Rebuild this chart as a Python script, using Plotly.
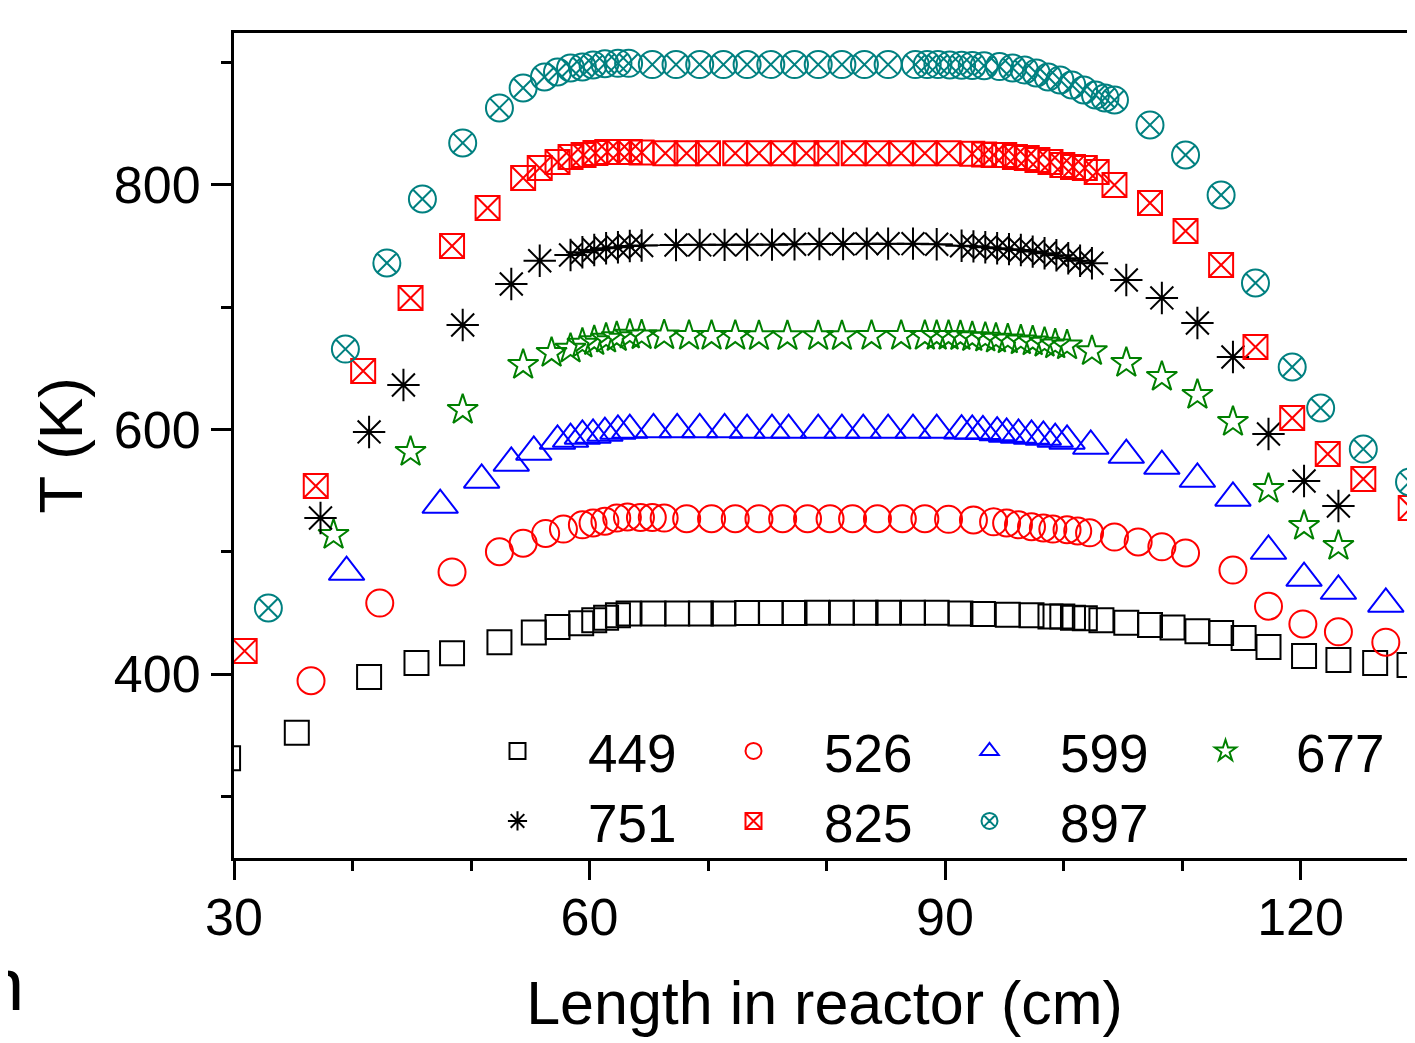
import plotly.graph_objects as go

# ---------------- data ----------------
labels = ["449", "526", "599", "677", "751", "825", "897"]
colors = ["#000000", "#FF0000", "#0000FF", "#008000", "#000000", "#FF0000", "#008080"]
symbols = ["square-open", "circle-open", "triangle-up-open", "star-open",
           "asterisk-open", "square-x-open", "circle-x-open"]
msizes = [24, 27, 31, 23, 27, 24, 27]
legend_rows = ["legend", "legend", "legend", "legend", "legend2", "legend2", "legend2"]

x449 = [29.5, 35.3, 41.4, 45.4, 48.4, 52.4, 55.3, 57.3, 59.3, 60.4, 61.4, 62.4, 63.3, 65.4, 67.4, 69.4,
        71.3, 73.3, 75.3, 77.3, 79.2, 81.3, 83.3, 85.2, 87.3, 89.3, 91.3, 93.2, 95.3, 97.3, 98.9, 99.9,
        100.8, 101.8, 103.2, 105.3, 107.3, 109.2, 111.3, 113.3, 115.2, 117.3, 120.3, 123.2, 126.3, 129.2]
y449 = [331, 352, 397.5, 409, 417, 426, 434, 438.5, 441.5, 444, 446, 448, 449.5, 449.5, 449.5, 449.5,
        449.5, 449.8, 449.8, 449.8, 450, 450, 450, 450, 450, 450, 449.5, 449, 448.5, 448, 447, 447,
        446, 445.5, 444, 442, 440, 438, 435, 433.5, 429.4, 422, 414.7, 411.5, 409, 407.4]

x526 = [36.5, 42.3, 48.4, 52.4, 54.4, 56.3, 57.8, 59.4, 60.3, 61.3, 62.3, 63.2, 64.3, 65.3, 66.3, 68.2,
        70.3, 72.3, 74.3, 76.3, 78.4, 80.3, 82.2, 84.3, 86.4, 88.3, 90.3, 92.4, 94.1, 95.2, 96.2, 97.3,
        98.3, 99.1, 100.3, 101.2, 102.2, 104.3, 106.3, 108.3, 110.3, 114.3, 117.3, 120.2, 123.2, 127.2]
y526 = [394.5, 458, 483.5, 500, 507, 515, 518.5, 522, 523.5, 525, 527.5, 528.5, 528, 528, 527.5, 527,
        527, 527, 527, 527, 527, 527, 527, 527, 527, 527, 526.5, 526, 524.5, 523.5, 522, 520.5,
        519.5, 518.5, 518, 517, 515.5, 512, 508, 504, 499, 485, 455.5, 441, 434.5, 426]

x599 = [39.5, 47.4, 50.9, 53.4, 55.3, 57.3, 58.4, 59.4, 60.3, 61.3, 62.4, 63.4, 65.4, 67.4, 69.3, 71.4,
        73.3, 75.4, 76.8, 79.3, 81.3, 83.1, 85.2, 87.3, 89.3, 91.4, 92.3, 93.2, 94.4, 95.2, 96.2, 97.3,
        98.3, 99.3, 100.3, 102.3, 105.3, 108.3, 111.3, 114.3, 117.3, 120.3, 123.2, 127.2]
y599 = [483.4, 538.2, 558.7, 572.6, 581.6, 590.6, 592.2, 594.7, 595.5, 597.1, 598.8, 599.5, 600, 600, 600, 600,
        599.5, 599.5, 599.5, 599.5, 599.5, 599.5, 599.5, 599.5, 599.5, 599, 598.8, 598.5, 597.5, 596.3, 595.5, 594.7,
        593.9, 592.2, 590.6, 586.5, 579.1, 570.1, 559.5, 544, 500.6, 478.5, 467.9, 457.3]

x677 = [38.4, 44.9, 49.3, 54.4, 56.8, 58.4, 59.4, 60.4, 61.4, 62.3, 63.4, 64.4, 66.3, 68.4, 70.3, 72.3,
        74.3, 76.7, 79.3, 81.3, 83.8, 86.3, 88.3, 89.3, 90.3, 91.3, 92.3, 93.4, 94.3, 95.3, 96.4, 97.4,
        98.4, 99.3, 100.3, 102.4, 105.3, 108.3, 111.3, 114.3, 117.3, 120.3, 123.2]
y677 = [513.7, 581.6, 616, 652.8, 662.6, 666.0, 670.1, 672.2, 674.2, 675.5, 677.5, 677, 677, 676.5, 676.5, 676.5,
        676.3, 676.3, 676.3, 676.3, 676.5, 676.5, 676.5, 676.5, 676.5, 676.3, 675.5, 675.0, 674.2, 673.6, 672.8, 672.0,
        670.9, 669.5, 668.7, 664.0, 654.4, 643, 628.2, 606.1, 551.3, 521.1, 504.7]

x751 = [37.3, 41.4, 44.3, 49.3, 53.4, 55.8, 58.4, 59.4, 60.4, 61.4, 62.4, 63.4, 64.4, 67.3, 69.3, 71.4,
        73.3, 75.4, 77.3, 79.4, 81.4, 83.4, 85.2, 87.3, 89.3, 91.4, 92.4, 93.4, 94.4, 95.4, 96.4, 97.4,
        98.4, 99.4, 100.4, 101.4, 102.4, 105.3, 108.3, 111.3, 114.3, 117.3, 120.3, 123.2]
y751 = [527.6, 598, 636.4, 685.5, 719, 738, 742.7, 745.0, 746.8, 748.2, 749.0, 750.1, 750.5, 750.9, 751, 751,
        751.2, 751.2, 751.5, 751.7, 751.7, 752, 752, 752, 751.5, 750.3, 749.8, 749.0, 748.2, 747.5, 746.8, 745.5,
        744.1, 742.5, 740.0, 738, 736.0, 722.3, 707.6, 687.1, 659.3, 596.3, 557.9, 537.4]

x825 = [30.9, 36.9, 40.9, 44.9, 48.4, 51.4, 54.4, 55.8, 57.3, 58.4, 59.5, 60.5, 61.5, 62.5, 63.4, 64.4,
        66.4, 68.2, 70.0, 72.3, 74.3, 76.3, 78.3, 80.0, 82.3, 84.3, 86.3, 88.3, 90.3, 92.3, 93.3, 94.1,
        95.0, 95.9, 96.9, 97.8, 98.9, 99.9, 100.8, 101.8, 102.8, 104.3, 107.3, 110.3, 113.3, 116.2,
        119.3, 122.3, 125.3, 129.3]
y825 = [418.8, 553.8, 647.9, 707.6, 750.1, 781.2, 805.7, 813.9, 818.8, 822.9, 824.5, 826.2, 827, 827, 827, 826.5,
        826, 826, 826, 826, 826, 826, 826, 826, 826, 826, 826, 826, 826, 825.5, 825, 824.5,
        824.5, 822.9, 822.1, 820.4, 818.8, 816.4, 814.7, 813.9, 810.6, 800, 785.3, 762.4, 734.6, 667.5,
        609.4, 580, 559.5, 535.8]

x897 = [32.9, 39.4, 42.9, 45.9, 49.3, 52.4, 54.4, 56.2, 57.3, 58.4, 59.4, 60.3, 61.3, 62.4, 63.3, 65.3,
        67.3, 69.3, 71.3, 73.3, 75.3, 77.3, 79.3, 81.3, 83.2, 85.2, 87.5, 88.5, 89.4, 90.4, 91.4, 92.3,
        93.3, 94.6, 95.7, 96.7, 97.7, 98.7, 99.7, 100.7, 101.7, 102.7, 103.5, 104.3, 107.3, 110.3,
        113.3, 116.2, 119.3, 121.7, 125.3, 129.2]
y897 = [454, 665.8, 736.2, 788.5, 834.4, 863, 879.3, 888.3, 892.4, 895.7, 896.5, 898.2, 899.2, 899.5, 899.5, 898.5,
        898.5, 898.5, 898.5, 898.5, 898.5, 898.5, 898.5, 898.5, 898.5, 898.5, 898.5, 898.5, 898.5, 898.2, 898, 897.8,
        897.5, 896.8, 895.7, 894.1, 891.6, 888.3, 885.9, 881.8, 877.7, 873.6, 871.2, 869.5, 849.1, 824.5,
        791.8, 719.8, 651.1, 617.6, 584.0, 557.1]

xs = [x449, x526, x599, x677, x751, x825, x897]
ys = [y449, y526, y599, y677, y751, y825, y897]

x_ticks = [30, 60, 90, 120]
y_ticks = [400, 600, 800]

# ---------------- figure ----------------
FONT = "Arial, Liberation Sans, Helvetica, sans-serif"
# the page body adds an 8 px margin; the figure is sized / offset to compensate
W, H = 1407, 1035
ML, MT, MB = 226, 25, 185
PW, PH = W - ML, H - MT - MB

fig = go.Figure()

# thin connecting line through the plateau of the 751 series
i0, i1 = x751.index(58.4), x751.index(102.4) + 1
fig.add_trace(go.Scatter(x=x751[i0:i1], y=y751[i0:i1], mode="lines",
                         line=dict(color="#000000", width=1.5), showlegend=False, hoverinfo="skip"))

for lab, c, s, ms, xv, yv, lg in zip(labels, colors, symbols, msizes, xs, ys, legend_rows):
    fig.add_trace(go.Scatter(
        x=xv, y=yv, mode="markers", name=lab, legend=lg,
        marker=dict(symbol=s, size=ms, color=c, line=dict(color=c, width=2)),
    ))

axis_common = dict(
    showline=True, linecolor="black", linewidth=3, ticks="outside", tickwidth=3,
    tickcolor="black", showgrid=False, zeroline=False,
    tickfont=dict(family=FONT, size=52, color="black"),
)

fig.update_xaxes(
    range=[30, 30 + PW / 11.85], tickvals=x_ticks, ticklen=19, ticklabelstandoff=-7,
    minor=dict(dtick=10, ticks="outside", ticklen=10, tickwidth=3, tickcolor="black"),
    mirror=True,
    title=dict(text="Length in reactor (cm)", font=dict(family=FONT, size=61, color="black"), standoff=36),
    **axis_common,
)
fig.update_yaxes(
    range=[249.5, 924.3], tickvals=y_ticks, ticklen=20,
    minor=dict(dtick=100, tick0=300, ticks="outside", ticklen=10, tickwidth=3, tickcolor="black"),
    title=dict(text="T (K)", font=dict(family=FONT, size=62, color="black"), standoff=12),
    **axis_common,
)

# fragment of a neighbouring label, cut off at the left edge in the reference
fig.add_annotation(text="n", xref="paper", yref="paper", x=(18 - ML) / PW, y=(PH + MT - 977) / PH,
                   xanchor="right", yanchor="middle", showarrow=False,
                   font=dict(family=FONT, size=74, color="black"))

LEG_X = (439 - ML) / PW
leg_common = dict(orientation="h", x=LEG_X, xanchor="left", yanchor="top",
                  font=dict(family=FONT, size=53, color="black"),
                  itemwidth=131, entrywidth=90, entrywidthmode="pixels",
                  bgcolor="rgba(0,0,0,0)", borderwidth=0, tracegroupgap=0)

fig.update_layout(
    width=W, height=H,
    margin=dict(l=ML, r=0, t=MT, b=MB, pad=0, autoexpand=False),
    paper_bgcolor="white", plot_bgcolor="white",
    font=dict(family=FONT, color="black"),
    legend=dict(y=1 - (702 - MT) / PH, **leg_common),
    legend2=dict(y=1 - (772 - MT) / PH, **leg_common),
)

fig.write_html("out.html")
